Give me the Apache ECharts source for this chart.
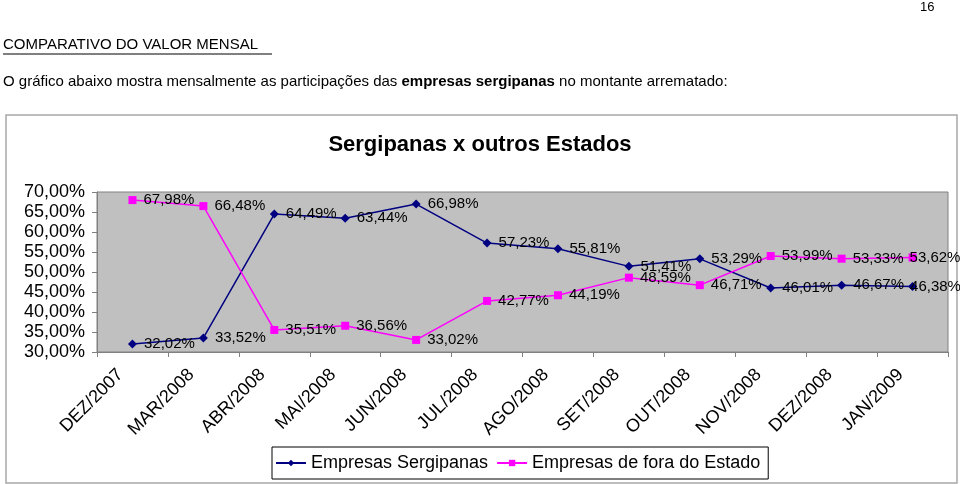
<!DOCTYPE html>
<html><head><meta charset="utf-8">
<script src="https://cdn.jsdelivr.net/npm/echarts@6/dist/echarts.min.js"></script>
<style>html,body{margin:0;padding:0;background:#fff}#c{width:960px;height:484px}</style>
</head><body><div id="c"></div>
<script>
const categories = ['DEZ/2007','MAR/2008','ABR/2008','MAI/2008','JUN/2008','JUL/2008','AGO/2008','SET/2008','OUT/2008','NOV/2008','DEZ/2008','JAN/2009'];
const sergipanas = [32.02, 33.52, 64.49, 63.44, 66.98, 57.23, 55.81, 51.41, 53.29, 46.01, 46.67, 46.38];
const foraEstado = [67.98, 66.48, 35.51, 36.56, 33.02, 42.77, 44.19, 48.59, 46.71, 53.99, 53.33, 53.62];
const seriesNames = ['Empresas Sergipanas', 'Empresas de fora do Estado'];
const chartTitle = 'Sergipanas x outros Estados';
const yMin = 30, yMax = 70, yStep = 5;

const FONT = 'Liberation Sans, Arial, sans-serif';
const pct = v => v.toFixed(2).replace('.', ',') + '%';

// last label is kept inside the chart area (as the spreadsheet did)
const withLastLabelInside = arr => arr.map((v, i) => i === arr.length - 1 ? {value: v, label: {offset: [-14, 0]}} : v);

const chart = echarts.init(document.getElementById('c'), null, {renderer: 'canvas'});
const labelCfg = {show: true, position: 'right', distance: 7, color: '#000', fontFamily: FONT, fontSize: 15,
  formatter: p => pct(p.value)};
chart.setOption({
  animation: false,
  backgroundColor: '#fff',
  title: {text: chartTitle, left: 'center', top: 129,
    textStyle: {fontFamily: FONT, fontSize: 22, fontWeight: 'bold', color: '#000'}},
  graphic: [
    {type: 'rect', shape: {x: 6, y: 115, width: 951, height: 368}, style: {fill: 'none', stroke: '#a8a8a8', lineWidth: 1.5}, z: -1},
    {type: 'text', left: 920, top: 1, style: {text: '16', fontFamily: FONT, fontSize: 13, fill: '#000'}},
    {type: 'text', left: 3, top: 37, style: {text: 'COMPARATIVO DO VALOR MENSAL', fontFamily: FONT, fontSize: 15, fill: '#000'}},
    {type: 'line', shape: {x1: 3, y1: 54, x2: 272, y2: 54}, style: {stroke: '#000', lineWidth: 1}},
    {type: 'text', left: 3, top: 74, style: {
      text: '{n|O gráfico abaixo mostra mensalmente as participações das }{b|empresas sergipanas}{n| no montante arrematado:}',
      rich: {n: {fontFamily: FONT, fontSize: 15, color: '#000'}, b: {fontFamily: FONT, fontSize: 15, fontWeight: 'bold', color: '#000'}}}}
  ],
  legend: {
    left: 272, top: 447, data: seriesNames,
    itemWidth: 30, itemHeight: 8, itemGap: 8,
    padding: [7, 8, 7, 3],
    borderColor: '#000', borderWidth: 1,
    textStyle: {fontFamily: FONT, fontSize: 18, color: '#000'}
  },
  grid: {left: 97, top: 192, width: 851, height: 160, show: true, backgroundColor: '#c0c0c0', borderColor: '#808080', borderWidth: 1},
  xAxis: {
    type: 'category', data: categories, boundaryGap: true,
    axisLine: {lineStyle: {color: '#808080'}},
    axisTick: {show: true, length: 5, lineStyle: {color: '#808080'}},
    axisLabel: {rotate: 45, margin: 8, interval: 0, padding: [0, 17, 11, 0], fontFamily: FONT, fontSize: 18, color: '#000'}
  },
  yAxis: {
    type: 'value', min: yMin, max: yMax, interval: yStep,
    splitLine: {show: false},
    axisLine: {show: true, lineStyle: {color: '#808080'}},
    axisTick: {show: true, length: 5, lineStyle: {color: '#808080'}},
    axisLabel: {margin: 12, fontFamily: FONT, fontSize: 18, color: '#000', formatter: v => v.toFixed(2).replace('.', ',') + '%'}
  },
  series: [
    {name: seriesNames[0], type: 'line', data: withLastLabelInside(sergipanas), symbol: 'diamond', symbolSize: 9,
      itemStyle: {color: '#000080'}, lineStyle: {color: '#000080', width: 1.5}, label: labelCfg},
    {name: seriesNames[1], type: 'line', data: withLastLabelInside(foraEstado), symbol: 'rect', symbolSize: 8,
      itemStyle: {color: '#ff00ff'}, lineStyle: {color: '#ff00ff', width: 1.5}, label: labelCfg}
  ]
});
</script></body></html>
